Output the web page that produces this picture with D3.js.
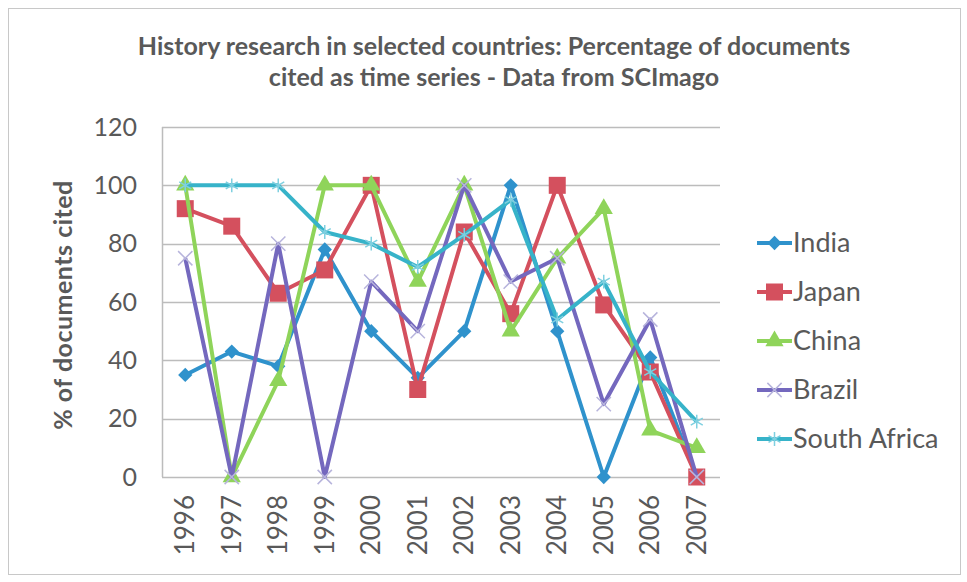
<!DOCTYPE html>
<html>
<head>
<meta charset="utf-8">
<script src="https://cdn.jsdelivr.net/npm/d3@7"></script>
<style>
  body { margin: 0; background: #fff; }
  text { font-family: "Lato", "Open Sans", sans-serif; }
</style>
</head>
<body>
<svg id="chart" width="967" height="582"></svg>
<script>
// years on the category axis
var years = ["1996","1997","1998","1999","2000","2001","2002","2003","2004","2005","2006","2007"];

// percentage of documents cited
var india       = [35, 43, 38, 78, 50, 34, 50, 100, 50, 0, 41, 0];
var japan       = [92, 86, 63, 71, 100, 30, 84, 56, 100, 59, 36, 0];
var china       = [100, 0, 33, 100, 100, 67, 100, 50, 75, 92, 16, 10];
var brazil      = [75, 0, 80, 0, 67, 50, 100, 67, 75, 25, 54, 0];
var southAfrica = [100, 100, 100, 84, 80, 72, 83, 95, 54, 67, 36, 19];

var yTicks = [0, 20, 40, 60, 80, 100, 120];

var series = [
    {name: "India",        values: india,       color: "#2f92cc", marker: "diamond"},
    {name: "Japan",        values: japan,       color: "#d4505e", marker: "square"},
    {name: "China",        values: china,       color: "#8fd45a", marker: "triangle"},
    {name: "Brazil",       values: brazil,      color: "#7468be", marker: "x"},
    {name: "South Africa", values: southAfrica, color: "#37b3c9", marker: "star"}
];

var svg = d3.select("#chart");

// outer chart frame
svg.append("rect")
    .attr("x", 8.5).attr("y", 8.5)
    .attr("width", 952).attr("height", 566)
    .attr("fill", "#fff").attr("stroke", "#c8c8c8");

var plot = {left: 162, right: 720, top: 127, bottom: 477};

var x = d3.scaleBand().domain(years).range([plot.left, plot.right]);
var y = d3.scaleLinear().domain([0, 120]).range([plot.bottom, plot.top]);

// title
var title = svg.append("text")
    .attr("text-anchor", "middle")
    .attr("font-weight", "bold")
    .attr("font-size", 25)
    .attr("fill", "#595959");
title.append("tspan").attr("x", 494).attr("y", 55)
    .text("History research in selected countries: Percentage of documents");
title.append("tspan").attr("x", 494).attr("y", 86)
    .text("cited as time series - Data from SCImago");

// gridlines
svg.append("g")
    .selectAll("line")
    .data(yTicks)
    .enter().append("line")
    .attr("x1", plot.left).attr("x2", plot.right)
    .attr("y1", function (d) { return Math.round(y(d)) + 0.5; })
    .attr("y2", function (d) { return Math.round(y(d)) + 0.5; })
    .attr("stroke", "#bcbcbc").attr("stroke-width", 1.5);

svg.append("line")
    .attr("x1", plot.left + 0.5).attr("x2", plot.left + 0.5)
    .attr("y1", plot.top).attr("y2", plot.bottom)
    .attr("stroke", "#bcbcbc").attr("stroke-width", 1.5);

// y axis
var yAxis = svg.append("g")
    .attr("transform", "translate(" + plot.left + ",0)")
    .call(d3.axisLeft(y).tickValues(yTicks).tickSize(0).tickPadding(25));
yAxis.select(".domain").remove();
yAxis.selectAll("text")
    .attr("font-family", "Lato, sans-serif")
    .attr("font-size", 25)
    .attr("fill", "#595959");

// x axis
var xAxis = svg.append("g")
    .attr("transform", "translate(0," + plot.bottom + ")")
    .call(d3.axisBottom(x).tickSize(0));
xAxis.select(".domain").remove();
xAxis.selectAll("text")
    .attr("font-family", "Lato, sans-serif")
    .attr("font-size", 26)
    .attr("fill", "#595959")
    .attr("transform", "rotate(-90)")
    .attr("text-anchor", "end")
    .attr("x", -18)
    .attr("y", 0)
    .attr("dy", "0.35em");

// y axis title
svg.append("text")
    .attr("transform", "translate(72," + ((plot.top + plot.bottom) / 2 + 3) + ") rotate(-90)")
    .attr("text-anchor", "middle")
    .attr("font-weight", "bold")
    .attr("font-size", 25)
    .attr("letter-spacing", 0.5)
    .attr("fill", "#595959")
    .text("% of documents cited");

function drawMarker(g, type, color, size) {
    if (type == "diamond") {
        g.append("path")
            .attr("d", d3.symbol().type(d3.symbolDiamond2).size(size * 10)())
            .attr("fill", color);
    } else if (type == "square") {
        g.append("rect")
            .attr("x", -size / 2).attr("y", -size / 2)
            .attr("width", size).attr("height", size)
            .attr("fill", color);
    } else if (type == "triangle") {
        g.append("path")
            .attr("d", d3.symbol().type(d3.symbolTriangle).size(size * 9)())
            .attr("fill", color);
    } else if (type == "x") {
        g.append("path")
            .attr("d", d3.symbol().type(d3.symbolX).size(size * 9)())
            .attr("fill", "none").attr("stroke", "#b7b4dc").attr("stroke-width", 1.5);
    } else if (type == "star") {
        g.append("path")
            .attr("d", d3.symbol().type(d3.symbolAsterisk).size(size * 9)())
            .attr("fill", "none").attr("stroke", "#7fd0e0").attr("stroke-width", 1.5);
    }
}

var line = d3.line()
    .x(function (d, i) { return x(years[i]) + x.bandwidth() / 2; })
    .y(function (d) { return y(d); });

var sizes = {diamond: 13, square: 17, triangle: 16, x: 15, star: 15};

series.forEach(function (s) {
    var g = svg.append("g");
    g.append("path")
        .datum(s.values)
        .attr("d", line)
        .attr("fill", "none")
        .attr("stroke", s.color)
        .attr("stroke-width", 4)
        .attr("stroke-linejoin", "round");
    s.values.forEach(function (v, i) {
        var m = g.append("g")
            .attr("transform", "translate(" + (x(years[i]) + x.bandwidth() / 2) + "," + y(v) + ")");
        drawMarker(m, s.marker, s.color, sizes[s.marker]);
    });
});

// legend
var legend = svg.append("g")
    .selectAll("g")
    .data(series)
    .enter().append("g")
    .attr("transform", function (d, i) { return "translate(757," + (243 + i * 49) + ")"; });

legend.append("line")
    .attr("x1", 0).attr("x2", 35)
    .attr("stroke", function (d) { return d.color; })
    .attr("stroke-width", 4);

legend.each(function (d) {
    var m = d3.select(this).append("g").attr("transform", "translate(17.5,0)");
    drawMarker(m, d.marker, d.color, sizes[d.marker]);
});

legend.append("text")
    .attr("x", 36)
    .attr("dy", "0.35em")
    .attr("font-size", 27)
    .attr("fill", "#595959")
    .text(function (d) { return d.name; });
</script>
</body>
</html>
